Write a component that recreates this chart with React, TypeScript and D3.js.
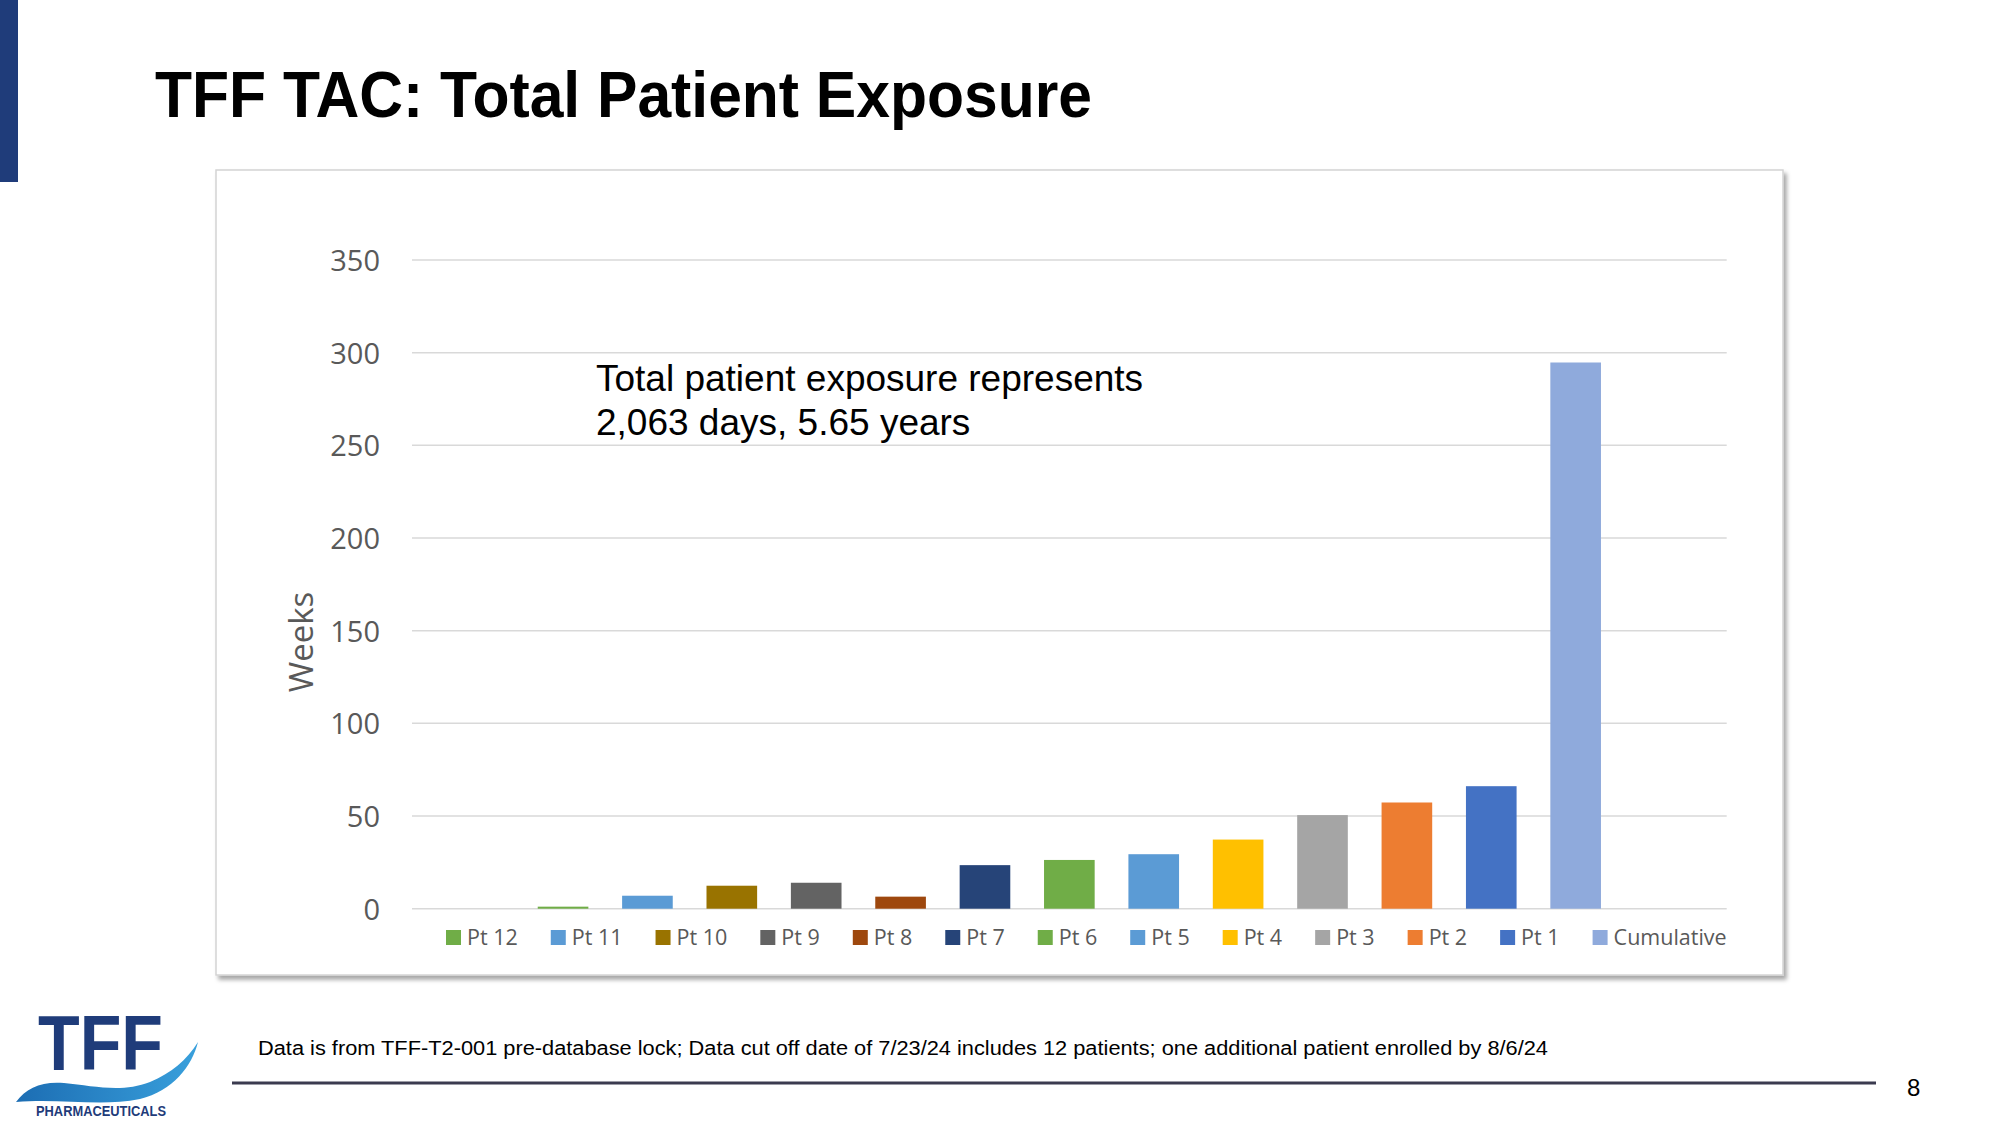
import { useRef, useEffect } from 'react'
import * as d3 from 'd3'

const patients = ['Pt 12', 'Pt 11', 'Pt 10', 'Pt 9', 'Pt 8', 'Pt 7', 'Pt 6', 'Pt 5', 'Pt 4', 'Pt 3', 'Pt 2', 'Pt 1', 'Cumulative']
const weeks = [1.1, 7.0, 12.4, 14.0, 6.5, 23.5, 26.3, 29.4, 37.3, 50.5, 57.3, 66.1, 294.7]
const barColors = [
  '#70ad47', '#5b9bd5', '#997300', '#636363', '#9e480e', '#264478',
  '#70ad47', '#5b9bd5', '#ffc000', '#a5a5a5', '#ed7d31', '#4472c4', '#8faadc',
]
const yTicks = [0, 50, 100, 150, 200, 250, 300, 350]

const title = 'TFF TAC: Total Patient Exposure'
const noteLines = ['Total patient exposure represents', '2,063 days, 5.65 years']
const footnote =
  'Data is from TFF-T2-001 pre-database lock; Data cut off date of 7/23/24 includes 12 patients; one additional patient enrolled by 8/6/24'
const pageNo = '8'

const NAVY = '#1f3c7a'
const AXIS_GREY = '#595959'
const chartFont = '"Open Sans", "Noto Sans", sans-serif'
const slideFont = '"Liberation Sans", Arial, sans-serif'

export default function App() {
  const svgRef = useRef<SVGSVGElement>(null)

  useEffect(() => {
    if (!svgRef.current) return
    const svg = d3.select(svgRef.current)
    svg.selectAll('*').remove()

    const width = 2000
    const height = 1125
    svg.attr('width', width).attr('height', height)

    // plot area
    const plot = { left: 412, right: 1726.7, top: 260, bottom: 908.7 }
    const box = { x: 216, y: 170, w: 1567, h: 805 }

    const defs = svg.append('defs')
    const shadow = defs.append('filter').attr('id', 'boxShadow').attr('x', '-5%').attr('y', '-5%').attr('width', '110%').attr('height', '110%')
    shadow.append('feDropShadow')
      .attr('dx', 3).attr('dy', 4).attr('stdDeviation', 2)
      .attr('flood-color', '#000').attr('flood-opacity', 0.35)

    const grad = defs.append('linearGradient').attr('id', 'swoosh').attr('x1', '0%').attr('x2', '100%')
    grad.append('stop').attr('offset', '0%').attr('stop-color', '#1c6db3')
    grad.append('stop').attr('offset', '100%').attr('stop-color', '#39a0dc')

    svg.append('rect').attr('width', width).attr('height', height).attr('fill', '#fff')

    // slide accent bar + title
    svg.append('rect').attr('x', 0).attr('y', 0).attr('width', 18).attr('height', 182).attr('fill', NAVY)
    svg.append('text')
      .attr('x', 155)
      .attr('y', 117)
      .attr('font-family', slideFont)
      .attr('font-weight', 'bold')
      .attr('font-size', '64px')
      .attr('textLength', 937)
      .attr('lengthAdjust', 'spacingAndGlyphs')
      .attr('fill', '#000')
      .text(title)

    // chart frame
    svg.append('rect')
      .attr('x', box.x).attr('y', box.y).attr('width', box.w).attr('height', box.h)
      .attr('fill', '#fff').attr('stroke', '#d4d4d4').attr('stroke-width', 1.5)
      .attr('filter', 'url(#boxShadow)')

    const x = d3.scaleBand<string>()
      .domain(patients)
      .range([plot.left, plot.right])
      .paddingInner(0.4)
      .paddingOuter(1.49)

    const y = d3.scaleLinear().domain([0, 350]).range([plot.bottom, plot.top])

    // Grid lines
    svg.append('g')
      .selectAll('line')
      .data(yTicks)
      .enter()
      .append('line')
      .attr('x1', plot.left)
      .attr('x2', plot.right)
      .attr('y1', (d) => y(d))
      .attr('y2', (d) => y(d))
      .attr('stroke', '#d9d9d9')
      .attr('stroke-width', 1.5)

    // Y axis labels
    svg.append('g')
      .attr('transform', `translate(${plot.left},0)`)
      .call(d3.axisLeft(y).tickValues(yTicks).tickSize(0).tickPadding(32))
      .call((g) => g.select('.domain').remove())
      .selectAll('text')
      .attr('fill', AXIS_GREY)
      .attr('font-size', '29px')
      .attr('font-family', chartFont)
      .attr('dy', '0.36em')

    svg.append('text')
      .attr('transform', 'translate(313,642) rotate(-90)')
      .attr('text-anchor', 'middle')
      .attr('fill', AXIS_GREY)
      .attr('font-size', '33px')
      .attr('font-family', chartFont)
      .text('Weeks')

    // Bars
    svg.append('g')
      .selectAll('rect')
      .data(patients)
      .enter()
      .append('rect')
      .attr('x', (d) => x(d)!)
      .attr('width', x.bandwidth())
      .attr('y', (_, i) => y(weeks[i]))
      .attr('height', (_, i) => y(0) - y(weeks[i]))
      .attr('fill', (_, i) => barColors[i])

    // Annotation
    const note = svg.append('text')
      .attr('font-family', slideFont)
      .attr('font-size', '37px')
      .attr('fill', '#000')
    noteLines.forEach((line, i) => {
      note.append('tspan').attr('x', 596).attr('y', 391 + i * 44).text(line)
    })

    // Legend - spread across the same span as in the original
    const legendStart = 446
    const legendEnd = plot.right
    const legendY = 945
    const sw = 15
    const swGap = 6
    const lg = svg.append('g')
    const items = patients.map((p, i) => {
      const item = lg.append('g')
      item.append('rect')
        .attr('y', legendY - 15).attr('width', sw).attr('height', sw)
        .attr('fill', barColors[i])
      const t = item.append('text')
        .attr('x', sw + swGap).attr('y', legendY)
        .attr('fill', AXIS_GREY)
        .attr('font-size', '21.5px')
        .attr('font-family', chartFont)
        .text(p)
      const w = (t.node() as SVGTextElement).getComputedTextLength()
      return { item, w: sw + swGap + w }
    })
    const total = d3.sum(items, (d) => d.w)
    const gap = (legendEnd - legendStart - total) / (items.length - 1)
    let cx = legendStart
    items.forEach((d) => {
      d.item.attr('transform', `translate(${cx},0)`)
      cx += d.w + gap
    })

    // Footer
    svg.append('text')
      .attr('x', 258).attr('y', 1055)
      .attr('font-family', slideFont).attr('font-size', '19.5px')
      .attr('textLength', 1290).attr('lengthAdjust', 'spacingAndGlyphs')
      .attr('fill', '#000')
      .text(footnote)
    svg.append('line')
      .attr('x1', 232).attr('x2', 1876).attr('y1', 1083).attr('y2', 1083)
      .attr('stroke', '#3b3b4f').attr('stroke-width', 3)
    svg.append('text')
      .attr('x', 1907).attr('y', 1096)
      .attr('font-family', slideFont).attr('font-size', '24px')
      .attr('fill', '#000')
      .text(pageNo)

    // Logo
    svg.append('text')
      .attr('x', 38).attr('y', 1070)
      .attr('font-family', slideFont).attr('font-weight', 'bold').attr('font-size', '78px')
      .attr('textLength', 125).attr('lengthAdjust', 'spacingAndGlyphs')
      .attr('fill', NAVY)
      .text('TFF')
    svg.append('path')
      .attr('d', 'M16,1102 C26,1088 42,1081 64,1083 C94,1086 122,1093 150,1082 C171,1073 187,1060 198,1042 C192,1066 173,1091 140,1099 C100,1107 60,1098 16,1102 Z')
      .attr('fill', 'url(#swoosh)')
    svg.append('text')
      .attr('x', 36).attr('y', 1116)
      .attr('font-family', slideFont).attr('font-weight', 'bold').attr('font-size', '14px')
      .attr('textLength', 130).attr('lengthAdjust', 'spacingAndGlyphs')
      .attr('fill', NAVY)
      .text('PHARMACEUTICALS')
  }, [])

  return (
    <div style={{ position: 'absolute', left: 0, top: 0 }}>
      <svg ref={svgRef} style={{ display: 'block' }} />
    </div>
  )
}
